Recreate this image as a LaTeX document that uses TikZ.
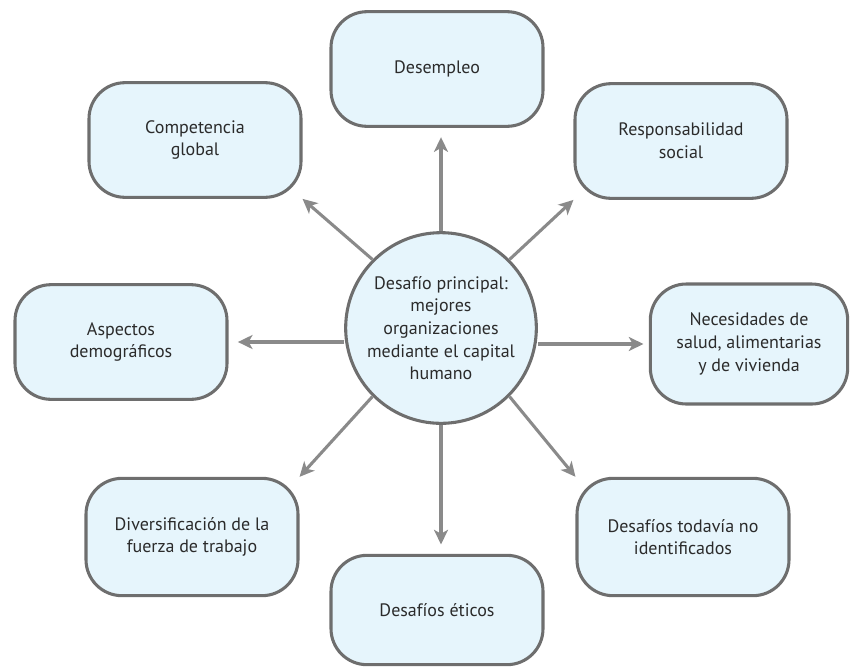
\documentclass[tikz,border=0pt]{standalone}
\usepackage{fontspec}
\setmainfont{PT Sans}
\usetikzlibrary{arrows.meta,calc}
\definecolor{boxfill}{HTML}{E6F5FC}
\definecolor{boxline}{HTML}{6E6E6E}
\definecolor{arrcol}{HTML}{8A8A8A}
\definecolor{txt}{HTML}{2B2B2B}
\begin{document}
\begin{tikzpicture}[x=0.75pt,y=-0.75pt,
  box/.style={draw=boxline, line width=2.3pt, fill=boxfill, rounded corners=27pt,
    minimum width=159pt, minimum height=86pt, align=center, text=txt,
    font=\fontsize{13.5}{17}\selectfont, inner sep=0pt},
  hub/.style={circle, draw=boxline, line width=2.3pt, fill=boxfill, minimum size=143pt,
    align=center, text=txt, font=\fontsize{13.5}{17}\selectfont, inner sep=0pt},
  arr/.style={draw=arrcol, line width=2.3pt, -{Stealth[length=11pt,width=10.5pt,inset=3pt]}},
]
\useasboundingbox (0,0) rectangle (852,668);

\node[hub] (c) at (441,328) {Desafío principal:\\ mejores\\ organizaciones\\ mediante el capital\\ humano};

\node[box] (des) at (437,69) {Desempleo};
\node[box] (comp) at (195,140) {Competencia\\ global};
\node[box] (resp) at (681,141) {Responsabilidad\\ social};
\node[box] (asp) at (121,342) {Aspectos\\ demográficos};
\node[box, minimum width=148pt, minimum height=90pt] (nec) at (749,344) {Necesidades de\\ salud, alimentarias\\ y de vivienda};
\node[box, minimum height=88pt] (div) at (192,537) {Diversificación de la\\ fuerza de trabajo};
\node[box, minimum height=88pt] (ide) at (683,537) {Desafíos todavía no\\ identificados};
\node[box, minimum height=82pt] (eti) at (437,610) {Desafíos éticos};

\draw[arr, shorten >=7pt] (c.north) -- (c.north |- des.south);
\draw[arr, shorten >=7pt] (c.south) -- (c.south |- eti.north);
\draw[arr, shorten >=7pt] (c.west |- asp.east) -- (asp.east);
\draw[arr, shorten >=4pt] (c.east |- nec.west) -- (nec.west);
\draw[arr] (c.135) -- (comp.south east);
\draw[arr] (c.45) -- (resp.south west);
\draw[arr] (c.225) -- (div.north east);
\draw[arr] (c.-45) -- (ide.north west);
\end{tikzpicture}
\end{document}
